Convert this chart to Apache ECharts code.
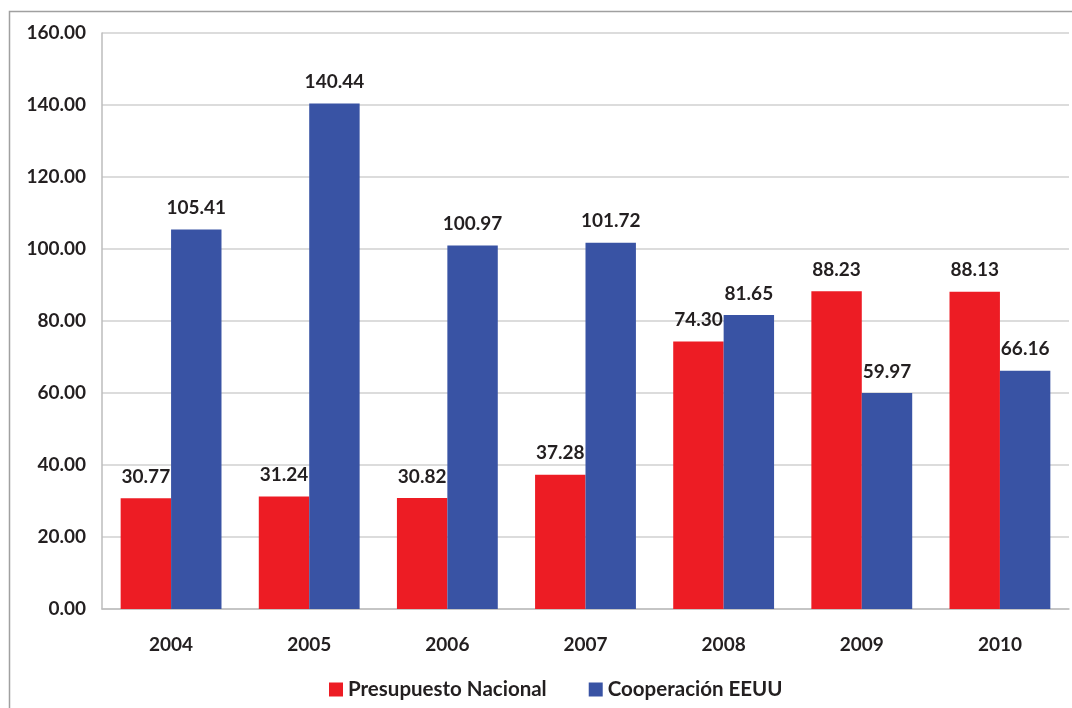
<!DOCTYPE html>
<html>
<head>
<meta charset="utf-8">
<script src="https://cdn.jsdelivr.net/npm/echarts@6/dist/echarts.min.js"></script>
<style>
  html, body { margin: 0; padding: 0; background: #fff; }
  #main { width: 1072px; height: 708px; }
</style>
</head>
<body>
<div id="main"></div>
<script>
const years = ['2004', '2005', '2006', '2007', '2008', '2009', '2010']
const presupuestoNacional = [30.77, 31.24, 30.82, 37.28, 74.30, 88.23, 88.13]
const cooperacionEEUU = [105.41, 140.44, 100.97, 101.72, 81.65, 59.97, 66.16]

const labelFont = 'Lato, "Open Sans", sans-serif'

const chart = echarts.init(document.getElementById('main'))
const option = {
  backgroundColor: '#fff',
  animation: false,
  graphic: [{
    type: 'rect',
    shape: { x: 9.5, y: 11.5, width: 1100, height: 800 },
    style: { fill: 'none', stroke: '#a0a0a0', lineWidth: 1.5 },
    silent: true
  }],
  grid: {
    left: 102,
    right: 3,
    top: 33,
    bottom: 99
  },
  legend: {
    bottom: 3,
    left: 324,
    itemGap: 42,
    itemWidth: 14,
    itemHeight: 14,
    icon: 'rect',
    textStyle: {
      color: '#231f20',
      fontSize: 20.5,
      fontWeight: 'bold',
      fontFamily: labelFont
    },
    data: ['Presupuesto Nacional', 'Cooperación EEUU']
  },
  xAxis: {
    type: 'category',
    data: years,
    axisTick: { show: false },
    axisLine: { lineStyle: { color: '#bdbdbd', width: 1.5 } },
    axisLabel: {
      margin: 26,
      color: '#231f20',
      fontSize: 19,
      fontWeight: 'bold',
      fontFamily: labelFont
    }
  },
  yAxis: {
    type: 'value',
    min: 0,
    max: 160,
    interval: 20,
    axisLine: { show: true, lineStyle: { color: '#bdbdbd', width: 1.5 } },
    axisTick: { show: false },
    splitLine: { lineStyle: { color: '#d0d0d0', width: 1.5 } },
    axisLabel: {
      margin: 16,
      color: '#231f20',
      fontSize: 19,
      fontWeight: 'bold',
      fontFamily: labelFont,
      formatter: v => v.toFixed(2)
    }
  },
  series: [{
    name: 'Presupuesto Nacional',
    type: 'bar',
    barGap: '0%',
    barCategoryGap: '27%',
    itemStyle: { color: '#ed1c24' },
    label: {
      show: true,
      position: 'top',
      distance: 12,
      color: '#231f20',
      fontSize: 19,
      fontWeight: 'bold',
      fontFamily: labelFont,
      formatter: p => p.value.toFixed(2)
    },
    data: presupuestoNacional
  }, {
    name: 'Cooperación EEUU',
    type: 'bar',
    itemStyle: { color: '#3953a4' },
    label: {
      show: true,
      position: 'top',
      distance: 12,
      color: '#231f20',
      fontSize: 19,
      fontWeight: 'bold',
      fontFamily: labelFont,
      formatter: p => p.value.toFixed(2)
    },
    data: cooperacionEEUU
  }]
}
chart.setOption(option)
</script>
</body>
</html>
